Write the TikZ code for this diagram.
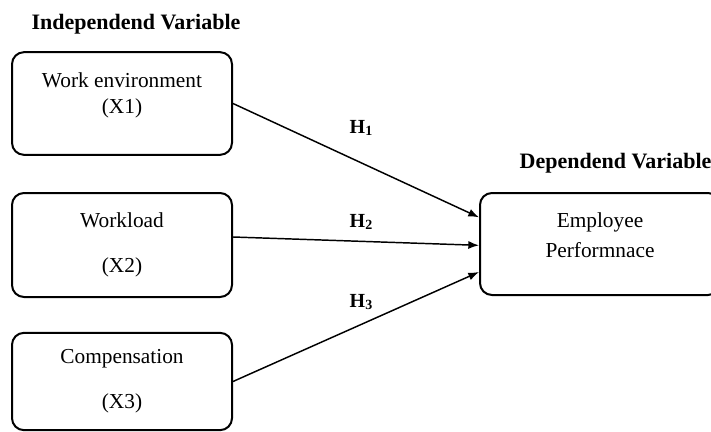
\documentclass[tikz,border=0pt]{standalone}
\usepackage{fontspec}
\setmainfont{Liberation Serif}
\usetikzlibrary{arrows.meta}

\begin{document}
\begin{tikzpicture}[x=0.75pt, y=-0.75pt, var/.style={rectangle, draw, line width=1.5pt, rounded corners=9pt, minimum width=165pt, align=center, font=\fontsize{16}{19}\selectfont}, head/.style={font=\fontsize{16.5}{20}\selectfont\bfseries}, hyp/.style={anchor=base west, font=\fontsize{15}{18}\selectfont\bfseries}, >={Latex[length=8pt,width=6pt]}]
            \useasboundingbox (0,0) rectangle (711,432);
            \node[head, anchor=base] (ih) at (136,30) {Independend Variable};
            \node[head, anchor=base west] (dh) at (515,168) {Dependend Variable};
            \node[var, minimum height=77pt] (w1) at (122,103.5) {Work environment\\[1pt](X1)\\[-3.5pt]\mbox{}};
            \node[var, minimum height=78pt] (w2) at (122,245) {Workload\\[15pt](X2)};
            \node[var, minimum height=73pt] (w3) at (122,381.5) {Compensation\\[15pt](X3)};
            \node[var, minimum height=76.5pt, minimum width=180pt] (perf) at (600,244) {Employee\\[3pt]Performnace\\[-5.5pt]\mbox{}};
            \node[hyp] (h1) at (345,133) {H\textsubscript{1}};
            \node[hyp] (h2) at (345,227) {H\textsubscript{2}};
            \node[hyp] (h3) at (345,307) {H\textsubscript{3}};
            \draw[->, line width=1.1pt] (w1.east) -- ([yshift=20pt]perf.west);
            \draw[->, line width=1.1pt] ([yshift=6pt]w2.east) -- ([yshift=-1pt]perf.west);
            \draw[->, line width=1.1pt] (w3.east) -- ([yshift=-21pt]perf.west);
        \end{tikzpicture}
\end{document}
